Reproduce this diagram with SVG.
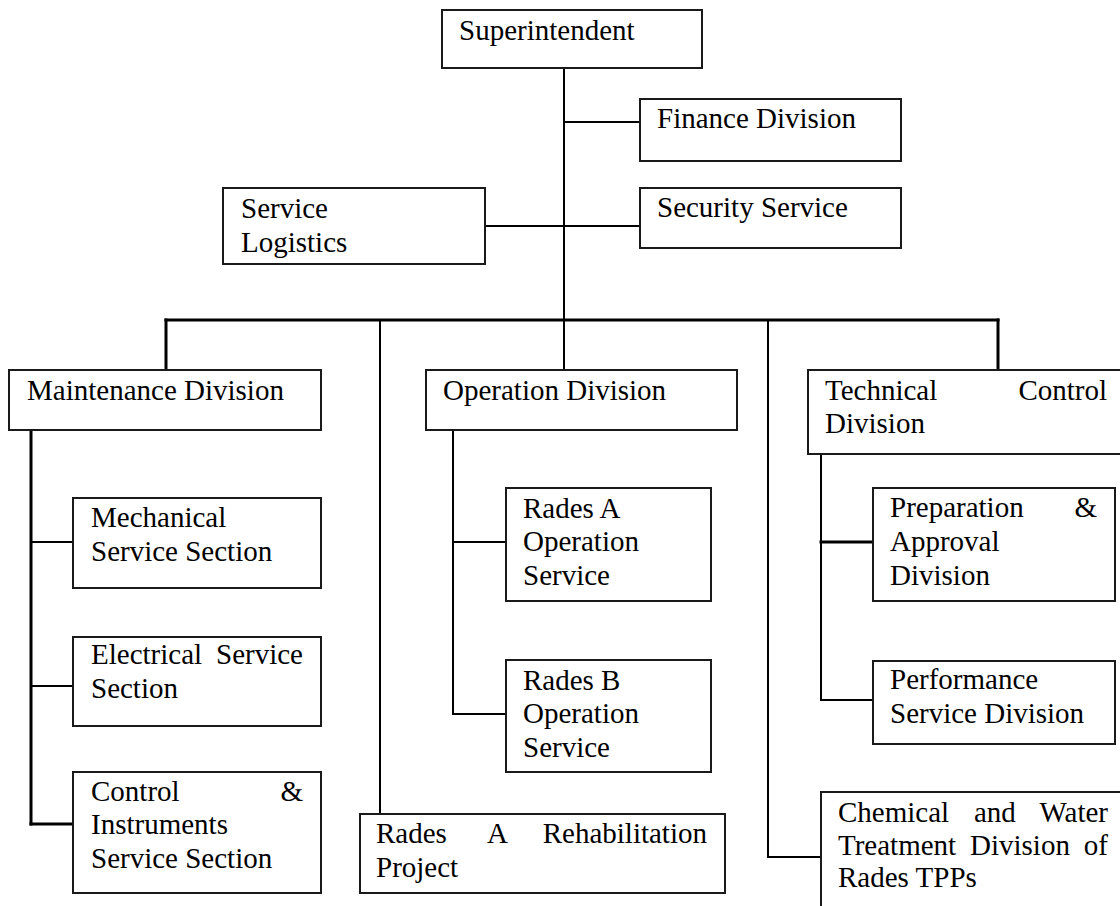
<svg xmlns="http://www.w3.org/2000/svg" width="1120" height="906" viewBox="0 0 1120 906">
  <style>
    .box { fill: #ffffff; stroke: #1a1a1a; stroke-width: 2; }
    .lbl { font-family: "Liberation Serif", "Times New Roman", serif; font-size: 29px; fill: #000000; }
    .ln { stroke: #000000; stroke-width: 2; fill: none; stroke-linecap: square; }
    .ln.bold { stroke-width: 3; }
  </style>
  <rect x="0" y="0" width="1120" height="906" fill="#ffffff"/>

  <!-- connectors -->
  <g id="connectors">
    <line class="ln" x1="564" y1="68" x2="564" y2="320"/>
    <line class="ln" x1="564" y1="122" x2="640" y2="122"/>
    <line class="ln" x1="485" y1="226" x2="640" y2="226"/>
    <line class="ln bold" x1="166" y1="320" x2="998" y2="320"/>
    <line class="ln bold" x1="166" y1="320" x2="166" y2="370"/>
    <line class="ln" x1="380" y1="320" x2="380" y2="814"/>
    <line class="ln" x1="564" y1="320" x2="564" y2="370"/>
    <polyline class="ln" points="768,320 768,857 821,857"/>
    <line class="ln bold" x1="998" y1="320" x2="998" y2="370"/>
    <!-- maintenance branch -->
    <line class="ln bold" x1="31" y1="430" x2="31" y2="824"/>
    <line class="ln" x1="31" y1="542" x2="73" y2="542"/>
    <line class="ln" x1="31" y1="686" x2="73" y2="686"/>
    <line class="ln bold" x1="31" y1="824" x2="73" y2="824"/>
    <!-- operation branch -->
    <polyline class="ln" points="453,430 453,714 506,714"/>
    <line class="ln" x1="453" y1="542" x2="506" y2="542"/>
    <!-- technical control branch -->
    <polyline class="ln" points="821,454 821,700 873,700"/>
    <line class="ln bold" x1="821" y1="542" x2="873" y2="542"/>
  </g>

  <g id="superintendent">
    <rect class="box" x="442" y="10" width="260" height="58"/>
    <text class="lbl" x="459" y="40">Superintendent</text>
  </g>
  <g id="finance">
    <rect class="box" x="640" y="99" width="261" height="62"/>
    <text class="lbl" x="657" y="128">Finance Division</text>
  </g>
  <g id="security">
    <rect class="box" x="640" y="188" width="261" height="60"/>
    <text class="lbl" x="657" y="217">Security Service</text>
  </g>
  <g id="logistics">
    <rect class="box" x="223" y="188" width="262" height="76"/>
    <text class="lbl" x="241" y="218">Service</text>
    <text class="lbl" x="241" y="252">Logistics</text>
  </g>

  <g id="maintenance">
    <rect class="box" x="9" y="370" width="312" height="60"/>
    <text class="lbl" x="27" y="400">Maintenance Division</text>
  </g>
  <g id="operation">
    <rect class="box" x="426" y="370" width="311" height="60"/>
    <text class="lbl" x="443" y="400">Operation Division</text>
  </g>
  <g id="technical">
    <rect class="box" x="808" y="370" width="320" height="84"/>
    <text class="lbl" x="825" y="400">Technical</text>
    <text class="lbl" x="1107" y="400" text-anchor="end">Control</text>
    <text class="lbl" x="825" y="433">Division</text>
  </g>

  <g id="mechanical">
    <rect class="box" x="73" y="498" width="248" height="90"/>
    <text class="lbl" x="91" y="527">Mechanical</text>
    <text class="lbl" x="91" y="561">Service Section</text>
  </g>
  <g id="electrical">
    <rect class="box" x="73" y="637" width="248" height="89"/>
    <text class="lbl" x="91" y="664">Electrical</text>
    <text class="lbl" x="303" y="664" text-anchor="end">Service</text>
    <text class="lbl" x="91" y="698">Section</text>
  </g>
  <g id="control-instruments">
    <rect class="box" x="73" y="772" width="248" height="121"/>
    <text class="lbl" x="91" y="801">Control</text>
    <text class="lbl" x="303" y="801" text-anchor="end">&amp;</text>
    <text class="lbl" x="91" y="834">Instruments</text>
    <text class="lbl" x="91" y="868">Service Section</text>
  </g>

  <g id="rades-a-operation">
    <rect class="box" x="506" y="488" width="205" height="113"/>
    <text class="lbl" x="523" y="518">Rades A</text>
    <text class="lbl" x="523" y="551">Operation</text>
    <text class="lbl" x="523" y="585">Service</text>
  </g>
  <g id="rades-b-operation">
    <rect class="box" x="506" y="660" width="205" height="112"/>
    <text class="lbl" x="523" y="690">Rades B</text>
    <text class="lbl" x="523" y="723">Operation</text>
    <text class="lbl" x="523" y="757">Service</text>
  </g>
  <g id="rades-a-rehabilitation">
    <rect class="box" x="360" y="814" width="365" height="79"/>
    <text class="lbl" x="376" y="843">Rades</text>
    <text class="lbl" x="487" y="843">A</text>
    <text class="lbl" x="707" y="843" text-anchor="end">Rehabilitation</text>
    <text class="lbl" x="376" y="877">Project</text>
  </g>

  <g id="preparation-approval">
    <rect class="box" x="873" y="488" width="242" height="113"/>
    <text class="lbl" x="890" y="517">Preparation</text>
    <text class="lbl" x="1097" y="517" text-anchor="end">&amp;</text>
    <text class="lbl" x="890" y="551">Approval</text>
    <text class="lbl" x="890" y="585">Division</text>
  </g>
  <g id="performance">
    <rect class="box" x="873" y="661" width="242" height="83"/>
    <text class="lbl" x="890" y="689">Performance</text>
    <text class="lbl" x="890" y="723">Service Division</text>
  </g>
  <g id="chemical-water">
    <rect class="box" x="821" y="792" width="320" height="140"/>
    <text class="lbl" x="838" y="822">Chemical</text>
    <text class="lbl" x="974" y="822">and</text>
    <text class="lbl" x="1108" y="822" text-anchor="end">Water</text>
    <text class="lbl" x="838" y="855">Treatment</text>
    <text class="lbl" x="970" y="855">Division</text>
    <text class="lbl" x="1108" y="855" text-anchor="end">of</text>
    <text class="lbl" x="838" y="887">Rades TPPs</text>
  </g>
</svg>
